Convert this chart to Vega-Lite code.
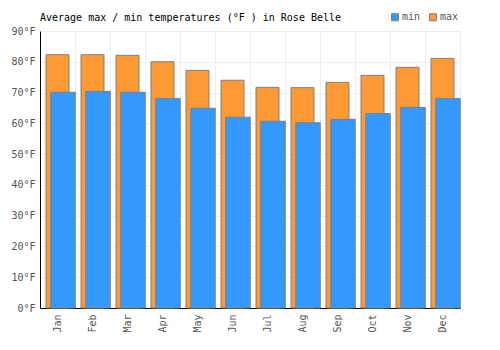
{
  "$schema": "https://vega.github.io/schema/vega-lite/v6.json",
  "autosize": {"type": "none"},
  "width": 420,
  "height": 277,
  "padding": {"left": 40, "top": 31, "right": 40, "bottom": 42},
  "background": "white",
  "title": {
    "text": "Average max / min temperatures (°F ) in Rose Belle",
    "anchor": "start",
    "frame": "group",
    "font": "DejaVu Sans Mono",
    "fontSize": 10,
    "fontWeight": "normal",
    "color": "#000000",
    "offset": -11
  },
  "config": {
    "view": {"stroke": null},
    "font": "DejaVu Sans Mono",
    "axisY": {
      "labelOverlap": false,
      "labelBound": false
    }
  },
  "data": {
    "values": [
      {"month": "Jan", "min": 70.1, "max": 82.3},
      {"month": "Feb", "min": 70.4, "max": 82.3},
      {"month": "Mar", "min": 70.1, "max": 82.1},
      {"month": "Apr", "min": 68.1, "max": 80.0},
      {"month": "May", "min": 64.9, "max": 77.2},
      {"month": "Jun", "min": 62.0, "max": 74.0},
      {"month": "Jul", "min": 60.7, "max": 71.7},
      {"month": "Aug", "min": 60.2, "max": 71.6},
      {"month": "Sep", "min": 61.3, "max": 73.3},
      {"month": "Oct", "min": 63.2, "max": 75.6},
      {"month": "Nov", "min": 65.2, "max": 78.2},
      {"month": "Dec", "min": 68.1, "max": 81.1}
    ]
  },
  "encoding": {
    "x": {
      "field": "month",
      "type": "nominal",
      "sort": null,
      "scale": {"paddingInner": 0, "paddingOuter": 0},
      "axis": {
        "title": null,
        "tickBand": "extent",
        "grid": true,
        "gridColor": "#eeeeee",
        "ticks": false,
        "domainColor": "#000000",
        "labelAngle": -90,
        "labelAlign": "right",
        "labelBaseline": "middle",
        "labelPadding": 6,
        "labelFont": "DejaVu Sans Mono",
        "labelFontSize": 10,
        "labelColor": "#555555"
      }
    }
  },
  "layer": [
    {
      "mark": {"type": "bar", "width": 23, "xOffset": 0, "stroke": "#808080", "strokeWidth": 1},
      "encoding": {
        "y": {
          "field": "max",
          "type": "quantitative",
          "scale": {"domain": [0, 90], "nice": false},
          "axis": {
            "title": null,
            "values": [0, 10, 20, 30, 40, 50, 60, 70, 80, 90],
            "labelExpr": "datum.value + '°F'",
            "labelOverlap": false,
            "grid": true,
            "gridColor": "#eeeeee",
            "ticks": false,
            "domainColor": "#000000",
            "labelPadding": 5,
            "labelFont": "DejaVu Sans Mono",
            "labelFontSize": 10,
            "labelColor": "#555555"
          }
        },
        "color": {
          "datum": "max",
          "type": "nominal",
          "scale": {"domain": ["min", "max"], "range": ["#3399ff", "#ff9933"]},
          "legend": {
            "title": null,
            "orient": "none",
            "direction": "horizontal",
            "legendX": 350,
            "legendY": -19,
            "symbolType": "square",
            "symbolSize": 49,
            "symbolStrokeColor": "#808080",
            "symbolStrokeWidth": 1,
            "symbolOpacity": 1,
            "labelFont": "DejaVu Sans Mono",
            "labelFontSize": 10,
            "labelColor": "#555555",
            "labelOffset": 2,
            "columnPadding": 6
          }
        }
      }
    },
    {
      "mark": {"type": "bar", "width": 24.5, "xOffset": 5.5, "stroke": "#808080", "strokeWidth": 1},
      "encoding": {
        "y": {
          "field": "min",
          "type": "quantitative",
          "axis": {
            "title": null,
            "values": [0, 10, 20, 30, 40, 50, 60, 70, 80, 90],
            "labelExpr": "datum.value + '°F'",
            "labelOverlap": false,
            "grid": true,
            "gridColor": "#eeeeee",
            "ticks": false,
            "domainColor": "#000000",
            "labelPadding": 5,
            "labelFont": "DejaVu Sans Mono",
            "labelFontSize": 10,
            "labelColor": "#555555"
          }
        },
        "color": {"datum": "min", "type": "nominal"}
      }
    }
  ]
}
